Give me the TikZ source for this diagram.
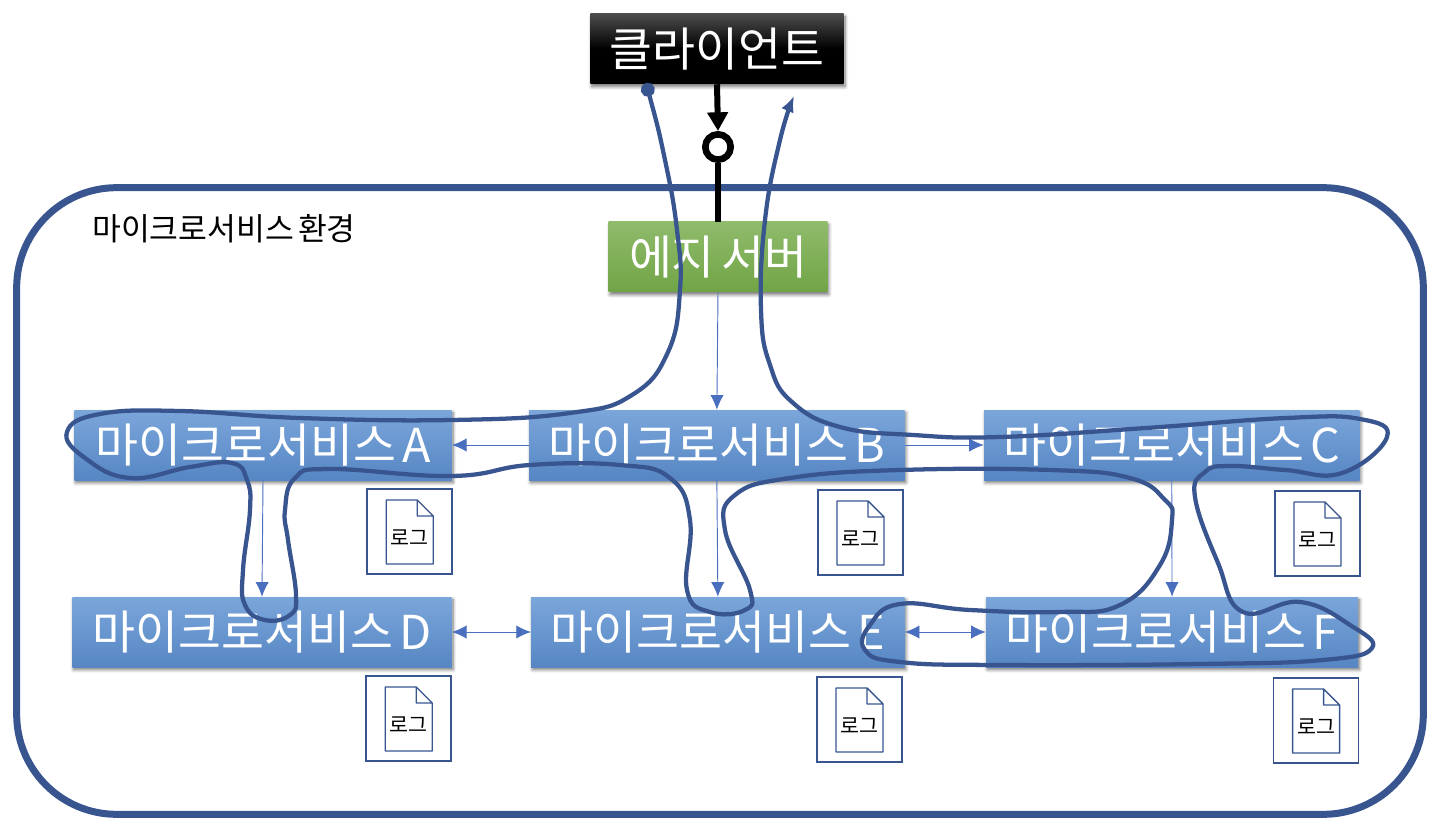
\documentclass[tikz,border=0pt]{standalone}
\usepackage{fontspec}
\setmainfont[WordSpace=0.6]{Noto Sans CJK KR}
\usepackage{xcolor}
\usetikzlibrary{arrows.meta,positioning,shadows.blur}
\definecolor{framec}{HTML}{385590}
\definecolor{linkc}{HTML}{4A6FBE}
\definecolor{svctop}{HTML}{7BA6DB}
\definecolor{svcbot}{HTML}{5686C3}
\definecolor{edgetop}{HTML}{8FBB6B}
\definecolor{edgebot}{HTML}{71A446}

\begin{document}
\begin{tikzpicture}[
  x=0.75pt, y=-0.75pt,
  box/.style={minimum height=52.5pt, inner sep=0pt, text=white, font=\fontsize{35}{38}\selectfont,
    blur shadow={shadow xshift=1pt, shadow yshift=-2pt, shadow blur radius=2.5pt, shadow blur steps=6, shadow opacity=55}},
  service/.style={box, minimum width=281.5pt, top color=svctop, bottom color=svcbot},
  logbox/.style={draw=framec, line width=1.1pt, minimum size=63.75pt, inner sep=0pt},
  doc/.style={draw=framec, line width=1pt, line join=round},
  link/.style={-{Latex[length=11pt,width=10pt]}, draw=linkc, line width=0.7pt},
  duplex/.style={{Latex[length=11pt,width=10pt]}-{Latex[length=11pt,width=10pt]}, draw=linkc, line width=0.7pt},
  trace/.style={draw=framec, line width=3.2pt, line join=round},
]
\useasboundingbox (0,0) rectangle (1440,838);

\node[draw=framec, line width=5.25pt, rounded corners=75pt, minimum width=1055pt, minimum height=470pt, inner sep=0pt] (env) at (720,501) {};
\node[font=\fontsize{23.5}{26}\selectfont] (envlabel) at (224,229) {마이크로서비스 환경};

\node[box, minimum width=190pt, top color=black!70, bottom color=black, middle color=black] (client) at (717,49) {클라이언트};
\node[box, minimum width=164pt, top color=edgetop, bottom color=edgebot] (edge) at (718,257) {에지 서버};
\node[circle, draw=black, line width=5pt, fill=white, minimum size=19pt, inner sep=0pt] (gate) at (718,147) {};

\node[service, minimum width=283pt] (sa) at (263,445) {마이크로서비스 A};
\node[service, right=57.75pt of sa] (sb) {마이크로서비스 B};
\node[service, right=59.25pt of sb] (sc) {마이크로서비스 C};
\node[service, minimum width=284.5pt] (sd) at (262,632) {마이크로서비스 D};
\node[service, minimum width=280pt, right=59.25pt of sd] (se) {마이크로서비스 E};
\node[service, minimum width=279pt, right=60.75pt of se] (sf) {마이크로서비스 F};

\foreach \s/\dx/\dy in {a/-.75/6, b/.75/6.75, c/-.75/7.5, d/0/6, e/1.5/6.75, f/-.75/7.5} {
  \node[logbox, below left=\dy pt and \dx pt of s\s.south east] (log\s) {};
  \draw[doc, shift={(log\s.center)}] (-23.5,-31.5) -- (7.5,-31.5) -- (23.5,-15.5) -- (23.5,32.5) -- (-23.5,32.5) -- cycle
    (7.5,-31.5) -- (7.5,-15.5) -- (23.5,-15.5);
  \node[font=\fontsize{15.5}{17}\selectfont, yshift=-4.5pt] (tag\s) at (log\s) {로그};
}

\draw[-{Triangle[length=14pt,width=15pt]}, line width=4.5pt] (client.south) -- (gate.north);
\draw[line width=4.5pt] (gate.south) -- (edge.north);

\draw[link] (edge.south) -- (sb.north);
\draw[link] (sb.west) -- (sa.east);
\draw[link] (sb.east) -- (sc.west);
\draw[link] (sa.south) -- (sd.north);
\draw[link] (sb.south) -- (se.north);
\draw[link] (sc.south) -- (sf.north);
\draw[duplex] (sd.east) -- (se.west);
\draw[duplex] (se.east) -- (sf.west);

\draw[trace, {Circle[length=10.5pt]}-{Latex[length=12pt,width=10pt]}]
  plot[smooth, tension=0.75] coordinates {
    (646,83) (665,160) (677,230) (680,290) (668,352) (632,395) (570,413) (452,420)
    (300,418) (180,411) (100,414) (67,432) (85,458) (130,478) (190,467) (232,463)
    (247,480) (250,510) (243,570) (245,605) (265,620) (290,615) (296,595) (288,540)
    (285,510) (295,478) (330,469) (452,476) (530,465) (620,465) (670,478) (690,520)
    (687,590) (710,612) (745,610) (750,590) (725,530) (735,495) (790,478) (900,470)
    (1050,470) (1130,478) (1165,500) (1172,520) (1160,565) (1120,605) (1060,612)
    (970,610) (900,604) (870,625) (865,650) (900,662) (1000,665) (1200,664) (1323,660)
    (1372,648) (1350,625) (1300,602) (1243,612) (1218,563) (1195,497)
    (1205,472) (1230,466) (1285,470) (1342,473) (1387,437) (1360,419) (1286,418)
    (1146,428) (1000,437) (913,435) (840,427) (792,402) (770,365) (761,310) (765,220) (780,140) (794,96)
  };
\end{tikzpicture}
\end{document}
